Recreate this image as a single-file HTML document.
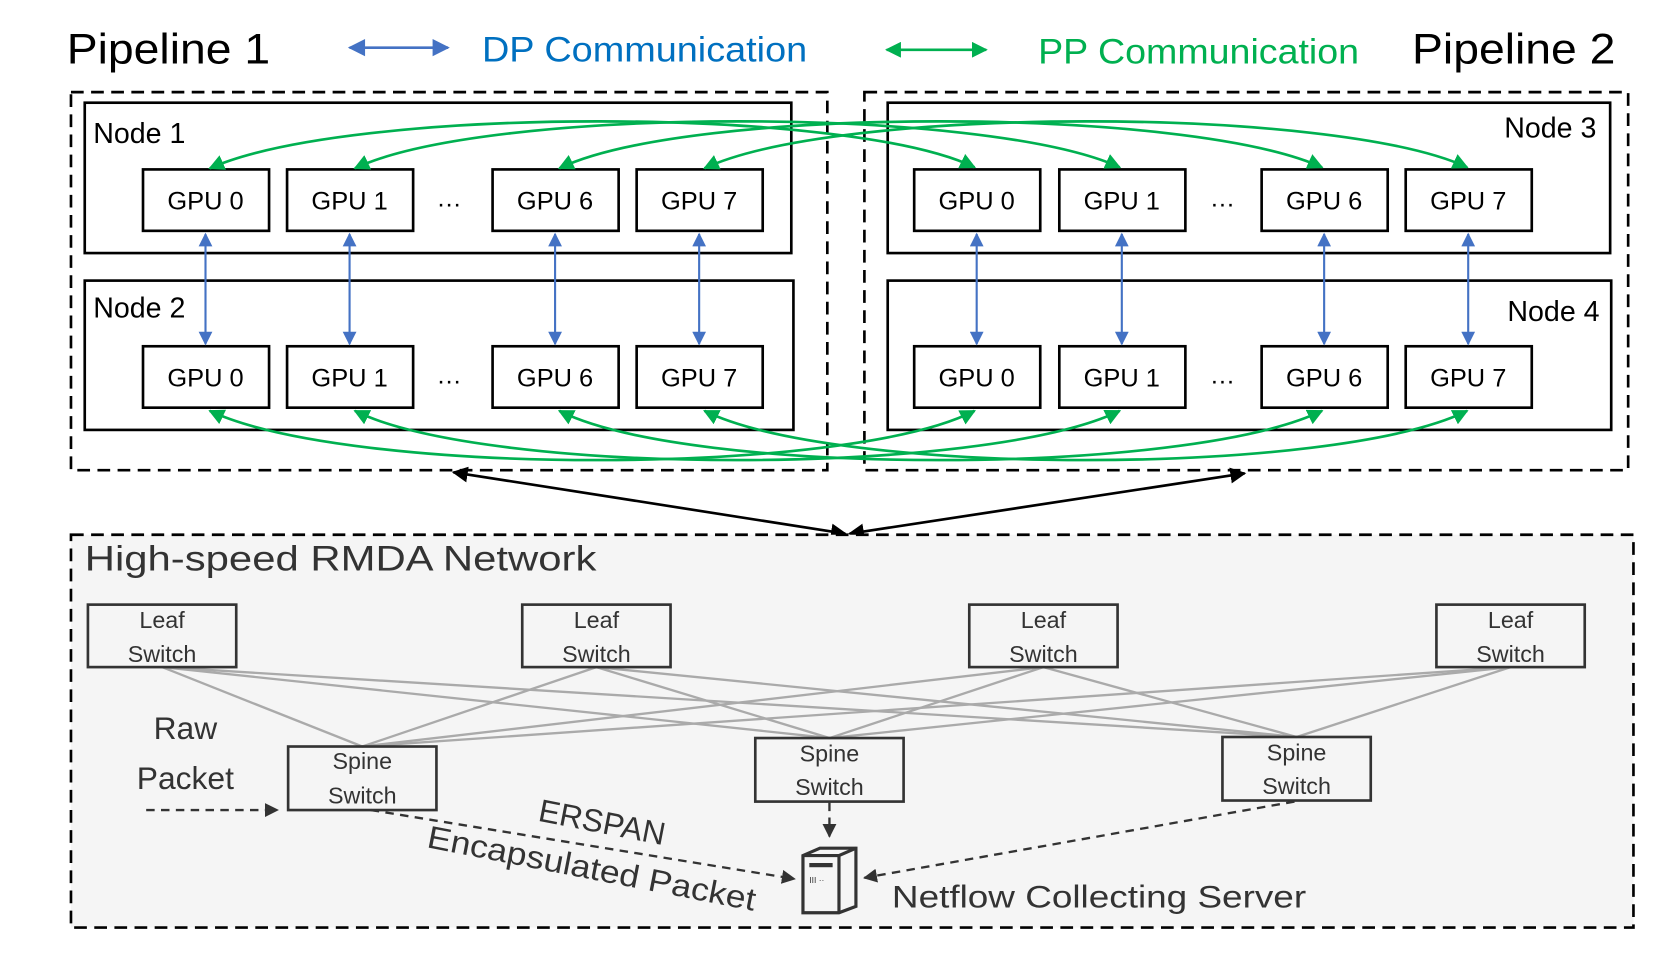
<!DOCTYPE html>
<html><head><meta charset="utf-8"><style>
html,body{margin:0;padding:0;background:#fff;}
svg{display:block;}
text{font-family:"Liberation Sans",sans-serif;}
</style></head><body>
<svg width="1661" height="953" viewBox="0 0 1568 900" preserveAspectRatio="none" xmlns="http://www.w3.org/2000/svg">
<defs>
<marker id="bl" viewBox="0 0 10 10" refX="9" refY="5" markerWidth="7" markerHeight="6.5" orient="auto-start-reverse"><path d="M0,0 L10,5 L0,10 z" fill="#4472C4"/></marker>
<marker id="gr" viewBox="0 0 10 10" refX="9" refY="5" markerWidth="6" markerHeight="6" orient="auto-start-reverse"><path d="M0,0 L10,5 L0,10 z" fill="#00B050"/></marker>
<marker id="bk" viewBox="0 0 10 10" refX="9" refY="5" markerWidth="6" markerHeight="6" orient="auto-start-reverse"><path d="M0,0 L10,5 L0,10 z" fill="#000"/></marker>
<marker id="dk" viewBox="0 0 10 10" refX="9" refY="5" markerWidth="6" markerHeight="6" orient="auto"><path d="M0,0 L10,5 L0,10 z" fill="#333"/></marker>
</defs>

<text x="63" y="60" font-size="40" textLength="192" lengthAdjust="spacingAndGlyphs">Pipeline 1</text>
<line x1="330" y1="45" x2="423" y2="45" stroke="#4472C4" stroke-width="2.5" marker-start="url(#bl)" marker-end="url(#bl)"/>
<text x="455" y="58" font-size="33" fill="#0070C0" textLength="307" lengthAdjust="spacingAndGlyphs">DP Communication</text>
<line x1="837" y1="47" x2="931" y2="47" stroke="#00B050" stroke-width="2.5" marker-start="url(#gr)" marker-end="url(#gr)"/>
<text x="980" y="60" font-size="33" fill="#00B050" textLength="303" lengthAdjust="spacingAndGlyphs">PP Communication</text>
<text x="1333" y="60" font-size="40" textLength="192" lengthAdjust="spacingAndGlyphs">Pipeline 2</text>

<rect x="67" y="87" width="714" height="357" fill="none" stroke="#000" stroke-width="2.5" stroke-dasharray="12,7"/>
<rect x="816" y="87" width="721" height="357" fill="none" stroke="#000" stroke-width="2.5" stroke-dasharray="12,7"/>

<g fill="none" stroke="#000" stroke-width="2.5">
<rect x="80" y="97" width="667" height="142"/>
<rect x="80" y="265" width="669" height="141"/>
<rect x="838" y="97" width="682" height="142"/>
<rect x="838" y="265" width="683" height="141"/>
</g>
<g font-size="27">
<text x="88" y="135">Node 1</text>
<text x="88" y="300">Node 2</text>
<text x="1507" y="130" text-anchor="end">Node 3</text>
<text x="1510" y="303" text-anchor="end">Node 4</text>
</g>

<g fill="#fff" stroke="#000" stroke-width="2.5">
<rect x="135" y="160" width="119" height="58"/><rect x="271" y="160" width="119" height="58"/>
<rect x="465" y="160" width="119" height="58"/><rect x="601" y="160" width="119" height="58"/>
<rect x="863" y="160" width="119" height="58"/><rect x="1000" y="160" width="119" height="58"/>
<rect x="1191" y="160" width="119" height="58"/><rect x="1327" y="160" width="119" height="58"/>
<rect x="135" y="327" width="119" height="58"/><rect x="271" y="327" width="119" height="58"/>
<rect x="465" y="327" width="119" height="58"/><rect x="601" y="327" width="119" height="58"/>
<rect x="863" y="327" width="119" height="58"/><rect x="1000" y="327" width="119" height="58"/>
<rect x="1191" y="327" width="119" height="58"/><rect x="1327" y="327" width="119" height="58"/>
</g>
<g font-size="24" text-anchor="middle">
<text x="194" y="198">GPU 0</text><text x="330" y="198">GPU 1</text><text x="524" y="198">GPU 6</text><text x="660" y="198">GPU 7</text>
<text x="922" y="198">GPU 0</text><text x="1059" y="198">GPU 1</text><text x="1250" y="198">GPU 6</text><text x="1386" y="198">GPU 7</text>
<text x="194" y="365">GPU 0</text><text x="330" y="365">GPU 1</text><text x="524" y="365">GPU 6</text><text x="660" y="365">GPU 7</text>
<text x="922" y="365">GPU 0</text><text x="1059" y="365">GPU 1</text><text x="1250" y="365">GPU 6</text><text x="1386" y="365">GPU 7</text>
<text x="424" y="195">…</text><text x="1154" y="195">…</text>
<text x="424" y="362">…</text><text x="1154" y="362">…</text>
</g>

<g stroke="#4472C4" stroke-width="2" marker-start="url(#bl)" marker-end="url(#bl)">
<line x1="194" y1="221" x2="194" y2="325"/><line x1="330" y1="221" x2="330" y2="325"/>
<line x1="524" y1="221" x2="524" y2="325"/><line x1="660" y1="221" x2="660" y2="325"/>
<line x1="922" y1="221" x2="922" y2="325"/><line x1="1059" y1="221" x2="1059" y2="325"/>
<line x1="1250" y1="221" x2="1250" y2="325"/><line x1="1386" y1="221" x2="1386" y2="325"/>
</g>

<g fill="none" stroke="#00B050" stroke-width="2.5" marker-start="url(#gr)" marker-end="url(#gr)">
<path d="M198,159 C330,100 800,100 920,158"/>
<path d="M335,159 C460,100 930,100 1057,158"/>
<path d="M528,159 C650,100 1120,100 1248,158"/>
<path d="M665,159 C790,100 1260,100 1385,158"/>
<path d="M198,388 C330,450 800,450 920,388"/>
<path d="M335,388 C460,450 930,450 1057,388"/>
<path d="M528,388 C650,450 1120,450 1248,388"/>
<path d="M665,388 C790,450 1260,450 1385,388"/>
</g>

<g stroke="#000" stroke-width="2.5" marker-start="url(#bk)" marker-end="url(#bk)">
<line x1="428" y1="446" x2="798" y2="504"/>
<line x1="1175" y1="447" x2="802" y2="504"/>
</g>

<rect x="67" y="505" width="1475" height="371" fill="#f5f5f5" stroke="#000" stroke-width="2.5" stroke-dasharray="12,7"/>
<text x="80" y="539" font-size="33" fill="#333" textLength="483" lengthAdjust="spacingAndGlyphs">High-speed RMDA Network</text>

<g stroke="#aaa" stroke-width="2.2">
<line x1="153" y1="630" x2="342" y2="705"/><line x1="153" y1="630" x2="783" y2="697"/><line x1="153" y1="630" x2="1224" y2="696"/>
<line x1="563" y1="630" x2="342" y2="705"/><line x1="563" y1="630" x2="783" y2="697"/><line x1="563" y1="630" x2="1224" y2="696"/>
<line x1="985" y1="630" x2="342" y2="705"/><line x1="985" y1="630" x2="783" y2="697"/><line x1="985" y1="630" x2="1224" y2="696"/>
<line x1="1426" y1="630" x2="342" y2="705"/><line x1="1426" y1="630" x2="783" y2="697"/><line x1="1426" y1="630" x2="1224" y2="696"/>
</g>

<g fill="none" stroke="#333" stroke-width="2.5">
<rect x="83" y="571" width="140" height="59"/><rect x="493" y="571" width="140" height="59"/>
<rect x="915" y="571" width="140" height="59"/><rect x="1356" y="571" width="140" height="59"/>
<rect x="272" y="705" width="140" height="60"/><rect x="713" y="697" width="140" height="60"/>
<rect x="1154" y="696" width="140" height="60"/>
</g>
<g font-size="22" fill="#333" text-anchor="middle">
<text x="153" y="593">Leaf</text><text x="153" y="625">Switch</text>
<text x="563" y="593">Leaf</text><text x="563" y="625">Switch</text>
<text x="985" y="593">Leaf</text><text x="985" y="625">Switch</text>
<text x="1426" y="593">Leaf</text><text x="1426" y="625">Switch</text>
<text x="342" y="726">Spine</text><text x="342" y="759">Switch</text>
<text x="783" y="719">Spine</text><text x="783" y="751">Switch</text>
<text x="1224" y="718">Spine</text><text x="1224" y="750">Switch</text>
</g>

<g font-size="30" fill="#333" text-anchor="middle">
<text x="175" y="698">Raw</text><text x="175" y="745">Packet</text>
</g>

<g fill="none" stroke="#333" stroke-width="2.2" stroke-dasharray="8,6">
<line x1="138" y1="765" x2="262" y2="765" marker-end="url(#dk)"/>
<line x1="350" y1="765" x2="750" y2="830" marker-end="url(#dk)"/>
<line x1="783" y1="758" x2="783" y2="790" marker-end="url(#dk)"/>
<line x1="1222" y1="757" x2="816" y2="829" marker-end="url(#dk)"/>
</g>

<g fill="none" stroke="#333" stroke-width="3">
<path d="M758,808 L774,801 L808,801 L808,856 L792,862 L758,862 Z"/>
<path d="M758,808 L792,808 L792,862 M792,808 L808,801"/>
</g>
<rect x="764" y="815" width="22" height="4" fill="#333"/>
<text x="764" y="834" font-size="8" fill="#333">III ··</text>

<text font-size="30" fill="#333" transform="translate(507,775) rotate(11)">ERSPAN</text>
<text font-size="30" fill="#333" transform="translate(402,800) rotate(11)" textLength="315" lengthAdjust="spacingAndGlyphs">Encapsulated Packet</text>
<text x="842" y="857" font-size="30" fill="#333" textLength="391" lengthAdjust="spacingAndGlyphs">Netflow Collecting Server</text>
</svg>
</body></html>
